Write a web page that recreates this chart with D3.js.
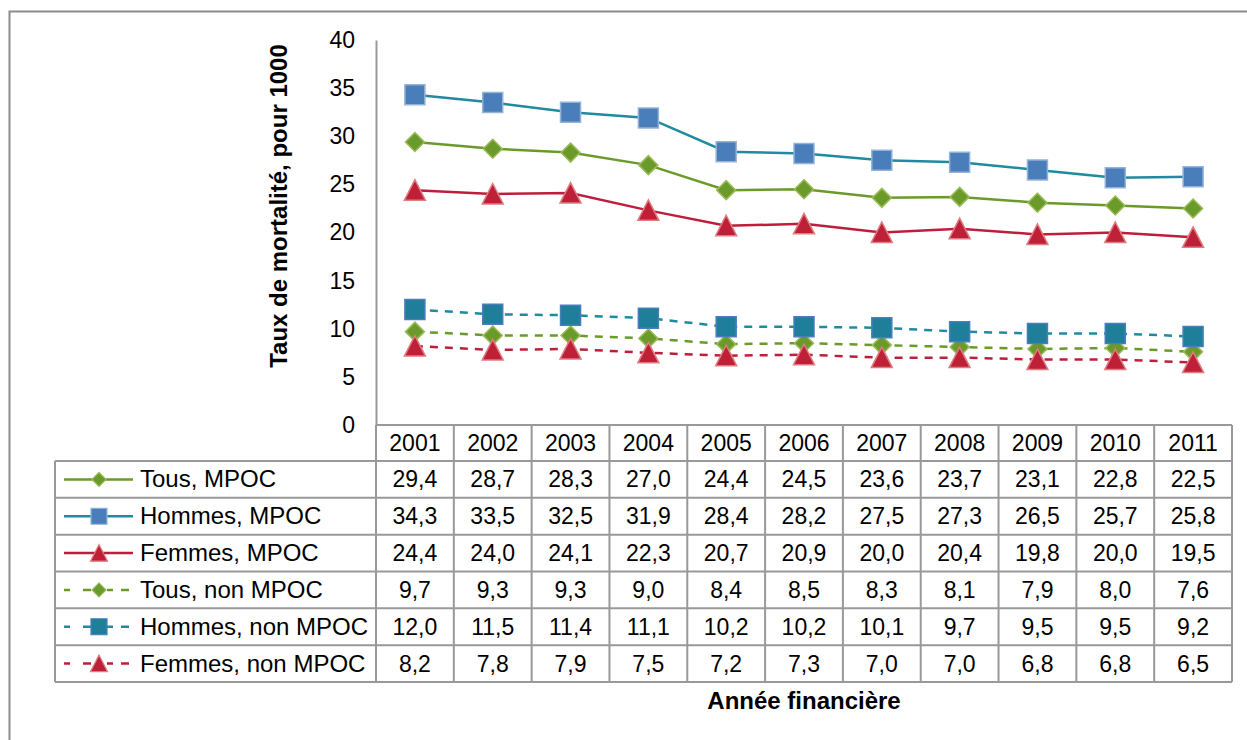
<!DOCTYPE html>
<html>
<head>
<meta charset="utf-8">
<script src="https://cdn.jsdelivr.net/npm/d3@7"></script>
<style>
  body { margin: 0; background: #fff; }
  text { font-family: "Liberation Sans", Arial, sans-serif; fill: #000; }
</style>
</head>
<body>
<div id="chart"></div>
<script>
// data
let years = ["2001", "2002", "2003", "2004", "2005", "2006", "2007", "2008", "2009", "2010", "2011"];
let seriesNames = ["Tous, MPOC", "Hommes, MPOC", "Femmes, MPOC", "Tous, non MPOC", "Hommes, non MPOC", "Femmes, non MPOC"];
let tousMpoc = [29.4, 28.7, 28.3, 27.0, 24.4, 24.5, 23.6, 23.7, 23.1, 22.8, 22.5];
let hommesMpoc = [34.3, 33.5, 32.5, 31.9, 28.4, 28.2, 27.5, 27.3, 26.5, 25.7, 25.8];
let femmesMpoc = [24.4, 24.0, 24.1, 22.3, 20.7, 20.9, 20.0, 20.4, 19.8, 20.0, 19.5];
let tousNon = [9.7, 9.3, 9.3, 9.0, 8.4, 8.5, 8.3, 8.1, 7.9, 8.0, 7.6];
let hommesNon = [12.0, 11.5, 11.4, 11.1, 10.2, 10.2, 10.1, 9.7, 9.5, 9.5, 9.2];
let femmesNon = [8.2, 7.8, 7.9, 7.5, 7.2, 7.3, 7.0, 7.0, 6.8, 6.8, 6.5];
let yTicks = [0, 5, 10, 15, 20, 25, 30, 35, 40];

let allValues = [tousMpoc, hommesMpoc, femmesMpoc, tousNon, hommesNon, femmesNon];

// styles per series
let styles = [
  { line: "#6a9a2a", fill: "#6a9a2a", stroke: "#9bbb59", shape: "diamond", dash: null },
  { line: "#1f8aa0", fill: "#4a7ebb", stroke: "#95b3d7", shape: "square", dash: null },
  { line: "#be1e3c", fill: "#be2038", stroke: "#e07b80", shape: "triangle", dash: null },
  { line: "#6a9a2a", fill: "#6a9a2a", stroke: "#9bbb59", shape: "diamond", dash: "8,7" },
  { line: "#1f8aa0", fill: "#1f7f9a", stroke: "#4a7ebb", shape: "square", dash: "8,7" },
  { line: "#be1e3c", fill: "#be2038", stroke: "#e07b80", shape: "triangle", dash: "8,7" }
];

let svgWidth = 1247;
let svgHeight = 740;

let plot = { left: 376, right: 1232, top: 40, bottom: 425 };
let headerBottom = 461;
let tableLeft = 55;
let tableBottom = 682;
let gridColor = "#999";

let svg = d3.select("#chart")
  .append("svg")
  .attr("width", svgWidth)
  .attr("height", svgHeight);

// outer frame
svg.append("rect")
  .attr("x", 9.5)
  .attr("y", 11.5)
  .attr("width", 1260)
  .attr("height", 760)
  .attr("fill", "none")
  .attr("stroke", "#8c8c8c")
  .attr("stroke-width", 2);

let xScale = d3.scaleBand()
  .domain(years)
  .range([plot.left, plot.right]);

let yScale = d3.scaleLinear()
  .domain([0, 40])
  .range([plot.bottom, plot.top]);

// marker shapes
function markerPath(shape, s) {
  if (shape === "square") {
    return `M${-s},${-s}H${s}V${s}H${-s}Z`;
  } else if (shape === "diamond") {
    return `M0,${-s}L${s},0L0,${s}L${-s},0Z`;
  } else {
    return `M0,${-s}L${s},${s * 0.95}L${-s},${s * 0.95}Z`;
  }
}
let markerSize = { square: 10, diamond: 9.5, triangle: 10.5 };
let legendSize = { square: 8, diamond: 7, triangle: 8.5 };

// y axis
let leftAxis = d3.axisLeft(yScale)
  .tickValues(yTicks)
  .tickSize(0)
  .tickPadding(21)
  .tickFormat(d3.format("d"));

let yAxisG = svg.append("g")
  .attr("transform", `translate(${plot.left}, 0)`)
  .call(leftAxis);
yAxisG.select(".domain")
  .attr("stroke", gridColor)
  .attr("stroke-width", 2);
yAxisG.selectAll("text")
  .attr("font-size", 23)
  .attr("font-family", "Liberation Sans, Arial, sans-serif")
  .attr("fill", "#000");

// y axis title
svg.append("text")
  .attr("transform", `translate(287, 206) rotate(-90)`)
  .attr("text-anchor", "middle")
  .attr("font-size", 24)
  .attr("font-weight", "bold")
  .text("Taux de mortalité, pour 1000");

// series lines
let line = d3.line()
  .x((d, i) => xScale(years[i]) + xScale.bandwidth() / 2)
  .y(d => yScale(d));

allValues.forEach((vals, k) => {
  let st = styles[k];
  svg.append("path")
    .datum(vals)
    .attr("d", line)
    .attr("fill", "none")
    .attr("stroke", st.line)
    .attr("stroke-width", 2.5)
    .attr("stroke-dasharray", st.dash);
});

// markers
allValues.forEach((vals, k) => {
  let st = styles[k];
  svg.append("g")
    .selectAll("path")
    .data(vals)
    .enter()
    .append("path")
      .attr("transform", (d, i) => `translate(${xScale(years[i]) + xScale.bandwidth() / 2}, ${yScale(d)})`)
      .attr("d", markerPath(st.shape, markerSize[st.shape]))
      .attr("fill", st.fill)
      .attr("stroke", st.stroke)
      .attr("stroke-width", 1.5);
});

// data table
let rowScale = d3.scaleBand()
  .domain(seriesNames)
  .range([headerBottom, tableBottom]);

let table = svg.append("g");

// header row with years
table.selectAll(".yearText")
  .data(years)
  .enter()
  .append("text")
    .attr("x", d => xScale(d) + xScale.bandwidth() / 2)
    .attr("y", (plot.bottom + headerBottom) / 2 + 8)
    .attr("text-anchor", "middle")
    .attr("font-size", 23)
    .text(d => d);

// value cells
allValues.forEach((vals, k) => {
  let name = seriesNames[k];
  table.append("g")
    .selectAll("text")
    .data(vals)
    .enter()
    .append("text")
      .attr("x", (d, i) => xScale(years[i]) + xScale.bandwidth() / 2)
      .attr("y", rowScale(name) + rowScale.bandwidth() / 2 + 8)
      .attr("text-anchor", "middle")
      .attr("font-size", 23)
      .text(d => d.toFixed(1).replace(".", ","));
});

// legend keys in the first column
seriesNames.forEach((name, k) => {
  let st = styles[k];
  let cy = rowScale(name) + rowScale.bandwidth() / 2;
  let g = table.append("g");
  g.append("line")
    .attr("x1", 64)
    .attr("x2", 133)
    .attr("y1", cy)
    .attr("y2", cy)
    .attr("stroke", st.line)
    .attr("stroke-width", 2.5)
    .attr("stroke-dasharray", st.dash ? "6,13,8,16,6,8,8" : null);
  g.append("path")
    .attr("transform", `translate(99, ${cy})`)
    .attr("d", markerPath(st.shape, legendSize[st.shape]))
    .attr("fill", st.fill)
    .attr("stroke", st.stroke)
    .attr("stroke-width", 1.2);
  g.append("text")
    .attr("x", 140)
    .attr("y", cy + 8)
    .attr("font-size", 24)
    .text(name);
});

// grid lines of the table
let gridG = svg.append("g")
  .attr("stroke", gridColor)
  .attr("stroke-width", 2);

// horizontal lines
gridG.append("line")
  .attr("x1", plot.left).attr("x2", plot.right)
  .attr("y1", plot.bottom).attr("y2", plot.bottom);
seriesNames.forEach(name => {
  gridG.append("line")
    .attr("x1", tableLeft).attr("x2", plot.right)
    .attr("y1", rowScale(name)).attr("y2", rowScale(name));
});
gridG.append("line")
  .attr("x1", tableLeft).attr("x2", plot.right)
  .attr("y1", tableBottom).attr("y2", tableBottom);

// vertical lines
years.forEach(y => {
  gridG.append("line")
    .attr("x1", xScale(y)).attr("x2", xScale(y))
    .attr("y1", plot.bottom).attr("y2", tableBottom);
});
gridG.append("line")
  .attr("x1", plot.right).attr("x2", plot.right)
  .attr("y1", plot.bottom).attr("y2", tableBottom);
gridG.append("line")
  .attr("x1", tableLeft).attr("x2", tableLeft)
  .attr("y1", headerBottom).attr("y2", tableBottom);

// x axis title
svg.append("text")
  .attr("x", (plot.left + plot.right) / 2)
  .attr("y", 709)
  .attr("text-anchor", "middle")
  .attr("font-size", 24)
  .attr("font-weight", "bold")
  .text("Année financière");
</script>
</body>
</html>
